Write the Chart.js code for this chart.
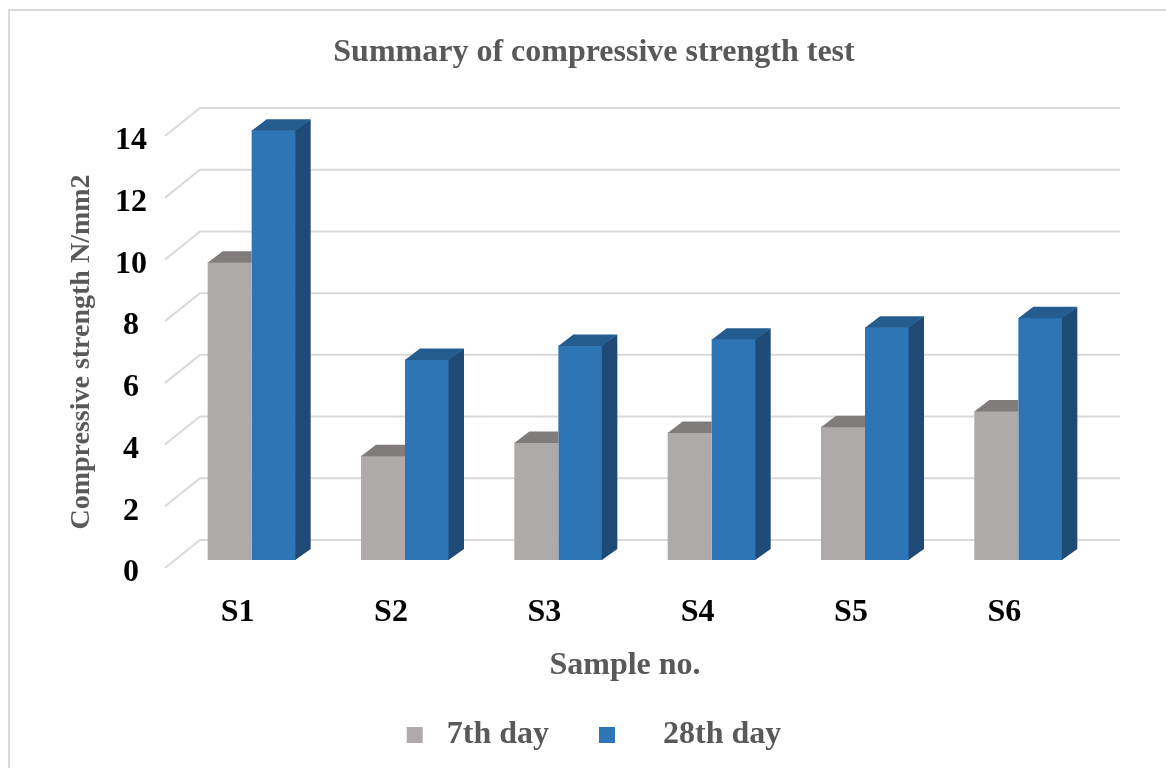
<!DOCTYPE html>
<html>
<head>
<meta charset="utf-8">
<script src="https://cdn.jsdelivr.net/npm/chart.js@4.4.1/dist/chart.umd.min.js"></script>
<style>
  html, body { margin: 0; padding: 0; background: #ffffff; overflow: hidden; }
  #frame {
    position: absolute; left: 8px; top: 9px; width: 1200px; height: 800px;
    border-top: 2px solid #D9D9D9; border-left: 2px solid #D9D9D9; box-sizing: border-box;
  }
  #c { position: absolute; left: 0; top: 0; }
</style>
</head>
<body>
<div id="frame"></div>
<canvas id="c" width="1166" height="768"></canvas>
<script>
// Sample categories and measured strengths (N/mm2)
const categories = ['S1', 'S2', 'S3', 'S4', 'S5', 'S6'];
const day7 = [9.65, 3.38, 3.81, 4.13, 4.32, 4.83];
const day28 = [13.93, 6.5, 6.95, 7.15, 7.54, 7.85];
const seriesNames = ['7th day', '28th day'];
const legendPrefix = [' ', '    '];
const yTicks = [0, 2, 4, 6, 8, 10, 12, 14];

const FONT = '"Liberation Serif", "Times New Roman", serif';
const TEXT_GREY = '#595959';

// Pseudo-3D geometry: back wall offset, bar plane offset, bar depth
const WALL = { dx: 35, dy: -28 };
const BAR_SHIFT = { dx: 10, dy: -8 };
const BAR_DEPTH = { dx: 15, dy: -11 };

const faceColors = [
  { front: '#AEAAAA', top: '#807C7C', side: '#8C8888' },
  { front: '#2E75B6', top: '#245C90', side: '#1F4A75' }
];

const depth3d = {
  id: 'depth3d',
  beforeDatasetsDraw(chart) {
    const { ctx, chartArea, scales: { y } } = chart;
    // floor-to-wall gridlines
    ctx.save();
    ctx.strokeStyle = '#D9D9D9';
    ctx.lineWidth = 2;
    y.ticks.forEach(t => {
      const py = y.getPixelForValue(t.value);
      ctx.beginPath();
      ctx.moveTo(chartArea.left, py);
      ctx.lineTo(chartArea.left + WALL.dx, py + WALL.dy);
      ctx.lineTo(chartArea.right + WALL.dx, py + WALL.dy);
      ctx.stroke();
    });
    ctx.restore();
    // bars sit part way into the depth of the floor
    ctx.save();
    ctx.translate(BAR_SHIFT.dx, BAR_SHIFT.dy);
  },
  afterDatasetDraw(chart, args) {
    const ctx = chart.ctx;
    const faces = faceColors[args.index];
    // a bar with a neighbour on its right only shows the part of its top left of that neighbour
    const hidden = args.index < chart.data.datasets.length - 1;
    const { dx, dy } = BAR_DEPTH;
    args.meta.data.forEach(bar => {
      const { x, y, base, width } = bar.getProps(['x', 'y', 'base', 'width'], true);
      const l = x - width / 2, r = x + width / 2;
      if (!hidden) {
        ctx.fillStyle = faces.side;
        ctx.beginPath();
        ctx.moveTo(r - 0.5, y);
        ctx.lineTo(r + dx, y + dy);
        ctx.lineTo(r + dx, base + dy);
        ctx.lineTo(r - 0.5, base);
        ctx.closePath();
        ctx.fill();
      }
      ctx.fillStyle = faces.top;
      ctx.beginPath();
      ctx.moveTo(l, y + 0.5);
      ctx.lineTo(r, y + 0.5);
      if (hidden) {
        ctx.lineTo(r, y + dy);
      } else {
        ctx.lineTo(r + dx, y + dy);
      }
      ctx.lineTo(l + dx, y + dy);
      ctx.closePath();
      ctx.fill();
    });
  },
  afterDatasetsDraw(chart) {
    chart.ctx.restore();
  }
};

new Chart(document.getElementById('c'), {
  type: 'bar',
  data: {
    labels: categories,
    datasets: [
      { label: seriesNames[0], data: day7, backgroundColor: faceColors[0].front, borderWidth: 0 },
      { label: seriesNames[1], data: day28, backgroundColor: faceColors[1].front, borderWidth: 0 }
    ]
  },
  options: {
    responsive: false,
    animation: false,
    devicePixelRatio: 1,
    events: [],
    datasets: { bar: { categoryPercentage: 0.574, barPercentage: 1, clip: false } },
    layout: { padding: { left: 103, right: 81, top: 0, bottom: 7 } },
    scales: {
      x: {
        afterFit: s => { s.height = 101; },
        grid: { display: false, drawTicks: false },
        border: { display: false },
        ticks: { color: '#000000', font: { family: FONT, size: 32, weight: 'bold' }, padding: 25.8, labelOffset: -4 },
        title: {
          display: true, text: 'Sample no.', color: TEXT_GREY,
          font: { family: FONT, size: 32, weight: 'bold' }, padding: { top: 0, bottom: -16.2 }
        }
      },
      y: {
        min: 0, max: 14,
        afterBuildTicks: s => { s.ticks = yTicks.map(v => ({ value: v })); },
        afterFit: s => { s.width = 62; },
        grid: { display: false, drawTicks: false },
        border: { display: false },
        ticks: {
          color: '#000000', font: { family: FONT, size: 32, weight: 'bold' },
          padding: 18, crossAlign: 'center', labelOffset: 5
        },
        title: {
          display: true, text: 'Compressive strength N/mm2', color: TEXT_GREY,
          font: { family: FONT, size: 28, weight: 'bold' }, padding: { top: -37.8, bottom: 0 }
        }
      }
    },
    plugins: {
      tooltip: { enabled: false },
      title: {
        display: true, text: 'Summary of compressive strength test', color: TEXT_GREY,
        font: { family: FONT, size: 32, weight: 'bold' }, padding: { top: 33.8, bottom: 63.8 }
      },
      legend: {
        position: 'bottom',
        labels: {
          color: TEXT_GREY,
          font: { family: FONT, size: 32, weight: 'bold' },
          boxWidth: 16, boxHeight: 16, padding: 50,
          generateLabels(chart) {
            const items = Chart.defaults.plugins.legend.labels.generateLabels(chart);
            items.forEach((it, i) => { it.text = legendPrefix[i] + it.text; it.lineWidth = 0; });
            return items;
          }
        }
      }
    }
  },
  plugins: [depth3d]
});
</script>
</body>
</html>
